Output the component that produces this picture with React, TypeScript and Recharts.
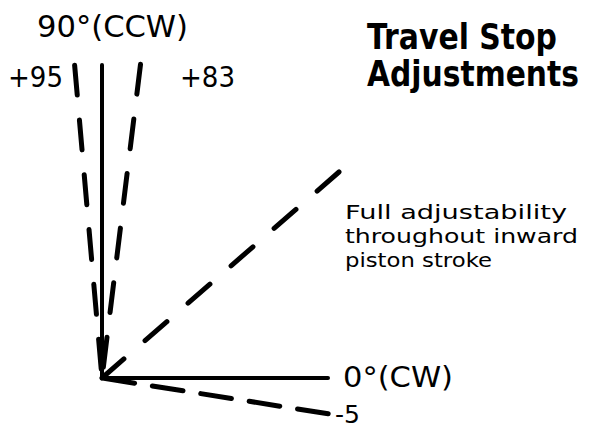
import { ComposedChart, Line, XAxis, YAxis } from 'recharts';

// rays of the travel stop diagram, angle in degrees (CCW from horizontal) and drawn length
const rayNames = ['90°(CCW)', '+95', '+83', 'inward stroke', '0°(CW)', '-5'];
const rayAngles = [90, 95, 83, 41, 0, -9];
const rayLengths = [313, 314, 316, 320, 226, 229];

const titleLines = ['Travel Stop', 'Adjustments'];
const noteLines = ['Full adjustability', 'throughout inward', 'piston stroke'];

const W = 589;
const H = 429;
const FONT = '"DejaVu Sans", "Liberation Sans", sans-serif';

// pen style per ray (solid / dashed, which end the dash pattern starts from)
const rayStyle = [
  { dash: undefined, fromTip: false, width: 4 },
  { dash: '30 25', fromTip: true, width: 5 },
  { dash: '30 25', fromTip: true, width: 5 },
  { dash: '29 28', fromTip: false, width: 5 },
  { dash: undefined, fromTip: false, width: 4 },
  { dash: '31 18', fromTip: true, width: 5 },
];

const rays = rayNames.map((name, i) => {
  const a = (rayAngles[i] * Math.PI) / 180;
  const tip = { x: rayLengths[i] * Math.cos(a), y: rayLengths[i] * Math.sin(a) };
  const origin = { x: 0, y: 0 };
  return { name, data: rayStyle[i].fromTip ? [tip, origin] : [origin, tip] };
});

// text placement: [text, x, baseline, fontSize, width, bold, vertical stretch]
const texts: [string, number, number, number, number, boolean, number][] = [
  [rayNames[0], 37, 37, 30, 151, false, 1],
  [rayNames[1], 8, 87, 28, 55, false, 1],
  [rayNames[2], 180, 87, 28, 55, false, 1],
  [titleLines[0], 367, 49, 30, 190, true, 1.17],
  [titleLines[1], 367, 86, 30, 212, true, 1.17],
  [noteLines[0], 345, 219, 20, 222, false, 1],
  [noteLines[1], 345, 243, 20, 233, false, 1],
  [noteLines[2], 345, 267, 20, 147, false, 1],
  [rayNames[4], 343, 387, 29, 110, false, 1],
  [rayNames[5], 335, 423, 24, 25, false, 1],
];

export default function App() {
  return (
    <div style={{ position: 'absolute', left: 0, top: 0, width: W, height: H, background: '#fff' }}>
      <ComposedChart width={W} height={H} margin={{ top: 0, right: 0, bottom: 0, left: 0 }}>
        <XAxis type="number" dataKey="x" domain={[-102, 487]} allowDataOverflow hide />
        <YAxis type="number" dataKey="y" domain={[-51, 378]} allowDataOverflow hide />
        {rays.map((r, i) => (
          <Line
            key={r.name}
            data={r.data}
            dataKey="y"
            type="linear"
            stroke="#000"
            strokeWidth={rayStyle[i].width}
            strokeDasharray={rayStyle[i].dash}
            strokeLinecap="round"
            dot={false}
            activeDot={false}
            isAnimationActive={false}
          />
        ))}
      </ComposedChart>
      <svg width={W} height={H} style={{ position: 'absolute', left: 0, top: 0, pointerEvents: 'none' }}>
        {texts.map(([t, x, y, fs, w, bold, sy]) => (
          <text
            key={t}
            x={0}
            y={0}
            transform={`translate(${x},${y}) scale(1,${sy})`}
            fontSize={fs}
            fontFamily={FONT}
            fontWeight={bold ? 'bold' : 'normal'}
            textLength={w}
            lengthAdjust="spacingAndGlyphs"
            fill="#000"
          >
            {t}
          </text>
        ))}
      </svg>
    </div>
  );
}
